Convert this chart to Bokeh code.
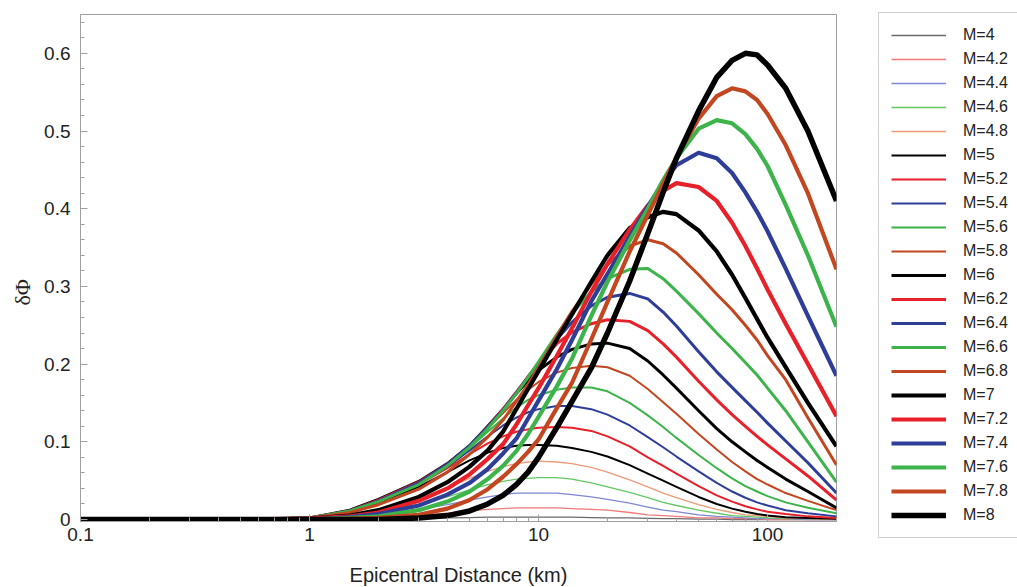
from bokeh.plotting import figure
from bokeh.models import (FixedTicker, CustomJSTickFormatter, Range1d, Legend,
                          LegendItem, Title)
from bokeh.embed import file_html
from bokeh.resources import INLINE

# ---------------- data ----------------
DIST = [0.1, 0.5, 1, 1.5, 2, 3, 4, 5, 6, 7, 8, 9, 10, 12, 14, 17, 20, 25,
        30, 35, 40, 50, 60, 70, 80, 90, 100, 120, 150, 200]

MAGNITUDES = ["4", "4.2", "4.4", "4.6", "4.8", "5", "5.2", "5.4", "5.6", "5.8",
              "6", "6.2", "6.4", "6.6", "6.8", "7", "7.2", "7.4", "7.6", "7.8", "8"]

DPHI_M40 = [0, 0, 0, 0.0005, 0.001, 0.0015, 0.002, 0.0025, 0.003, 0.003, 0.003, 0.003, 0.003, 0.003, 0.003,
            0.0025, 0.002, 0.002, 0.0015, 0.001, 0.001, 0.0005, 0.0005, 0, 0, 0, 0, 0, 0, 0]
DPHI_M42 = [0, 0, 0, 0.001, 0.002, 0.005, 0.008, 0.011, 0.013, 0.014, 0.015, 0.015, 0.015, 0.015, 0.014,
            0.013, 0.012, 0.009, 0.006, 0.005, 0.004, 0.002, 0.002, 0.001, 0.001, 0.001, 0, 0, 0, 0]
DPHI_M44 = [0, 0, 0.001, 0.003, 0.006, 0.013, 0.019, 0.025, 0.029, 0.032, 0.034, 0.034, 0.034, 0.034, 0.032,
            0.029, 0.026, 0.021, 0.016, 0.012, 0.010, 0.006, 0.004, 0.003, 0.002, 0.001, 0.001, 0.001, 0, 0]
DPHI_M46 = [0, 0, 0.001, 0.004, 0.009, 0.019, 0.029, 0.038, 0.045, 0.049, 0.052, 0.053, 0.054, 0.054, 0.052,
            0.047, 0.042, 0.035, 0.028, 0.022, 0.018, 0.012, 0.008, 0.005, 0.004, 0.003, 0.002, 0.001, 0.001, 0]
DPHI_M48 = [0, 0, 0.001, 0.006, 0.013, 0.027, 0.041, 0.053, 0.062, 0.068, 0.072, 0.074, 0.075, 0.074, 0.072,
            0.067, 0.061, 0.051, 0.042, 0.034, 0.028, 0.019, 0.013, 0.009, 0.006, 0.005, 0.004, 0.002, 0.001, 0]
DPHI_M50 = [0, 0, 0.002, 0.010, 0.022, 0.042, 0.061, 0.076, 0.086, 0.092, 0.095, 0.096, 0.096, 0.095, 0.092,
            0.087, 0.081, 0.070, 0.059, 0.050, 0.042, 0.029, 0.020, 0.014, 0.010, 0.007, 0.005, 0.003, 0.002, 0.001]
DPHI_M52 = [0, 0, 0.002, 0.011, 0.024, 0.045, 0.066, 0.084, 0.098, 0.107, 0.113, 0.116, 0.118, 0.119, 0.118,
            0.114, 0.107, 0.094, 0.080, 0.069, 0.059, 0.043, 0.031, 0.023, 0.017, 0.013, 0.010, 0.007, 0.004, 0.002]
DPHI_M54 = [0, 0, 0.002, 0.011, 0.024, 0.046, 0.068, 0.089, 0.107, 0.121, 0.131, 0.138, 0.142, 0.146, 0.146,
            0.142, 0.135, 0.121, 0.106, 0.093, 0.081, 0.062, 0.047, 0.036, 0.028, 0.022, 0.018, 0.012, 0.008, 0.004]
DPHI_M56 = [0, 0, 0.002, 0.011, 0.025, 0.047, 0.070, 0.092, 0.113, 0.130, 0.144, 0.154, 0.160, 0.167, 0.170,
            0.170, 0.165, 0.150, 0.134, 0.119, 0.105, 0.083, 0.066, 0.053, 0.043, 0.036, 0.030, 0.022, 0.015, 0.008]
DPHI_M58 = [0, 0, 0.002, 0.012, 0.026, 0.048, 0.071, 0.094, 0.117, 0.137, 0.154, 0.167, 0.177, 0.189, 0.195,
            0.198, 0.196, 0.185, 0.168, 0.151, 0.136, 0.110, 0.090, 0.074, 0.062, 0.052, 0.045, 0.034, 0.024, 0.012]
DPHI_M60 = [0, 0, 0.002, 0.012, 0.026, 0.049, 0.072, 0.095, 0.120, 0.142, 0.162, 0.179, 0.192, 0.209, 0.219,
            0.226, 0.227, 0.220, 0.204, 0.186, 0.169, 0.140, 0.117, 0.100, 0.087, 0.076, 0.067, 0.052, 0.036, 0.015]
DPHI_M62 = [0, 0, 0.002, 0.011, 0.025, 0.048, 0.071, 0.094, 0.119, 0.142, 0.164, 0.184, 0.201, 0.226, 0.241,
            0.252, 0.257, 0.255, 0.243, 0.226, 0.209, 0.178, 0.154, 0.135, 0.120, 0.107, 0.096, 0.078, 0.056, 0.025]
DPHI_M64 = [0, 0, 0.002, 0.011, 0.024, 0.047, 0.071, 0.095, 0.119, 0.141, 0.163, 0.183, 0.201, 0.232, 0.254,
            0.275, 0.286, 0.291, 0.284, 0.267, 0.249, 0.216, 0.190, 0.170, 0.153, 0.138, 0.124, 0.101, 0.073, 0.034]
DPHI_M66 = [0, 0, 0.002, 0.011, 0.023, 0.045, 0.069, 0.093, 0.117, 0.140, 0.162, 0.183, 0.203, 0.238, 0.265,
            0.293, 0.310, 0.322, 0.323, 0.310, 0.294, 0.265, 0.240, 0.220, 0.202, 0.186, 0.169, 0.140, 0.100, 0.048]
DPHI_M68 = [0, 0, 0.002, 0.009, 0.019, 0.039, 0.061, 0.084, 0.106, 0.128, 0.152, 0.174, 0.196, 0.236, 0.268,
            0.303, 0.328, 0.352, 0.360, 0.355, 0.343, 0.315, 0.290, 0.270, 0.250, 0.231, 0.211, 0.180, 0.131, 0.070]
DPHI_M70 = [0, 0, 0.001, 0.005, 0.012, 0.029, 0.048, 0.068, 0.089, 0.113, 0.142, 0.168, 0.191, 0.231, 0.264,
            0.306, 0.340, 0.375, 0.389, 0.396, 0.393, 0.372, 0.345, 0.315, 0.285, 0.258, 0.234, 0.196, 0.150, 0.094]
DPHI_M72 = [0, 0, 0.001, 0.004, 0.009, 0.024, 0.040, 0.058, 0.078, 0.097, 0.122, 0.147, 0.169, 0.210, 0.246,
            0.293, 0.329, 0.373, 0.404, 0.423, 0.433, 0.428, 0.410, 0.382, 0.352, 0.323, 0.296, 0.252, 0.200, 0.133]
DPHI_M74 = [0, 0, 0, 0.003, 0.007, 0.018, 0.032, 0.047, 0.065, 0.085, 0.104, 0.130, 0.153, 0.193, 0.231,
            0.281, 0.316, 0.364, 0.403, 0.434, 0.456, 0.472, 0.465, 0.446, 0.421, 0.396, 0.371, 0.323, 0.262, 0.185]
DPHI_M76 = [0, 0, 0, 0.002, 0.004, 0.012, 0.023, 0.036, 0.052, 0.069, 0.088, 0.110, 0.132, 0.171, 0.207,
            0.262, 0.306, 0.359, 0.400, 0.437, 0.465, 0.503, 0.514, 0.510, 0.496, 0.477, 0.455, 0.405, 0.340, 0.248]
DPHI_M78 = [0, 0, 0, 0.001, 0.002, 0.006, 0.014, 0.025, 0.039, 0.055, 0.071, 0.087, 0.103, 0.143, 0.176,
            0.232, 0.280, 0.345, 0.392, 0.432, 0.466, 0.516, 0.545, 0.555, 0.551, 0.540, 0.522, 0.482, 0.420, 0.322]
DPHI_M80 = [0, 0, 0, 0, 0, 0.002, 0.005, 0.011, 0.020, 0.031, 0.045, 0.061, 0.080, 0.118, 0.152,
            0.195, 0.240, 0.307, 0.368, 0.421, 0.465, 0.526, 0.569, 0.591, 0.600, 0.598, 0.585, 0.555, 0.500, 0.410]

X_MAJOR_TICKS = [0.1, 1, 10, 100]
X_MINOR_TICKS = [0.2, 0.3, 0.4, 0.5, 0.6, 0.7, 0.8, 0.9, 2, 3, 4, 5, 6, 7, 8, 9,
                 20, 30, 40, 50, 60, 70, 80, 90, 200]
Y_MAJOR_TICKS = [0, 0.1, 0.2, 0.3, 0.4, 0.5, 0.6]
Y_MINOR_TICKS = [0.02, 0.04, 0.06, 0.08, 0.12, 0.14, 0.16, 0.18, 0.22, 0.24, 0.26, 0.28,
                 0.32, 0.34, 0.36, 0.38, 0.42, 0.44, 0.46, 0.48, 0.52, 0.54, 0.56, 0.58,
                 0.62, 0.64]

SERIES = [DPHI_M40, DPHI_M42, DPHI_M44, DPHI_M46, DPHI_M48,
          DPHI_M50, DPHI_M52, DPHI_M54, DPHI_M56, DPHI_M58,
          DPHI_M60, DPHI_M62, DPHI_M64, DPHI_M66, DPHI_M68,
          DPHI_M70, DPHI_M72, DPHI_M74, DPHI_M76, DPHI_M78,
          DPHI_M80]

# ---------------- styles ----------------
BLACK, RED, BLUE, GREEN, BROWN = "#000000", "#e8202a", "#2e3d98", "#3cb44b", "#c2461f"
COLORS = ["#6a6a6a", "#f27a7a", "#7f86d2", "#62c862", "#ec9a78",
          BLACK, RED, BLUE, GREEN, BROWN,
          BLACK, RED, BLUE, GREEN, BROWN,
          BLACK, RED, BLUE, GREEN, BROWN,
          BLACK]
WIDTHS = [1.3] * 5 + [2.0] * 5 + [3.0] * 5 + [4.2] * 5 + [5.5]

FONT = "Liberation Sans"
AXIS_GRAY = "#a0a0a0"

p = figure(width=1017, height=587, frame_width=756, frame_height=507,
           x_axis_type="log",
           x_range=Range1d(0.1, 200), y_range=Range1d(-0.0026, 0.65),
           output_backend="svg", toolbar_location=None,
           min_border_left=80, min_border_right=0,
           min_border_top=14, min_border_bottom=66)
p.background_fill_color = "white"
p.border_fill_color = "white"
p.outline_line_color = AXIS_GRAY
p.grid.visible = False

items = []
for mag, ys, col, w in zip(MAGNITUDES, SERIES, COLORS, WIDTHS):
    r = p.line(DIST, ys, line_color=col, line_width=w, line_join="round")
    items.append(LegendItem(label="M=" + mag, renderers=[r]))

# axes
for ax in (p.xaxis[0], p.yaxis[0]):
    ax.axis_line_color = AXIS_GRAY
    ax.major_tick_line_color = AXIS_GRAY
    ax.minor_tick_line_color = AXIS_GRAY
    ax.major_tick_in = 7
    ax.major_tick_out = 0
    ax.minor_tick_in = 4
    ax.minor_tick_out = 0
    ax.major_label_text_font = FONT
    ax.major_label_text_font_size = "19px"
    ax.major_label_text_color = "#222222"

p.xaxis.ticker = FixedTicker(ticks=X_MAJOR_TICKS, minor_ticks=X_MINOR_TICKS)
p.xaxis.formatter = CustomJSTickFormatter(code="return String(tick);")
p.xaxis.major_label_standoff = 6
p.xaxis.axis_label = "Epicentral Distance (km)"
p.xaxis.axis_label_text_font = FONT
p.xaxis.axis_label_text_font_size = "20px"
p.xaxis.axis_label_text_font_style = "normal"
p.xaxis.axis_label_text_color = "#222222"
p.xaxis.axis_label_standoff = 20

p.yaxis.ticker = FixedTicker(ticks=Y_MAJOR_TICKS, minor_ticks=Y_MINOR_TICKS)
p.yaxis.formatter = CustomJSTickFormatter(
    code="return tick === 0 ? '0' : tick.toFixed(1);")
p.yaxis.major_label_standoff = 10

# y-axis label (placed as a side title so it can sit a little below centre)
ylabel = Title(text="δΦ", align="left", offset=216, standoff=14,
               text_font="Liberation Serif", text_font_size="22px",
               text_font_style="normal", text_color="#222222")
p.add_layout(ylabel, "left")

legend = Legend(items=items, location=(42, -17),
                glyph_width=55, glyph_height=20, label_height=20,
                spacing=4, padding=12, margin=0, label_standoff=17,
                label_width=85,
                border_line_color=AXIS_GRAY, border_line_width=1,
                background_fill_color="white", background_fill_alpha=1.0,
                label_text_font=FONT, label_text_font_size="16px",
                label_text_color="#222222")
p.add_layout(legend, "right")

open("out.html", "w").write(file_html(p, INLINE))
